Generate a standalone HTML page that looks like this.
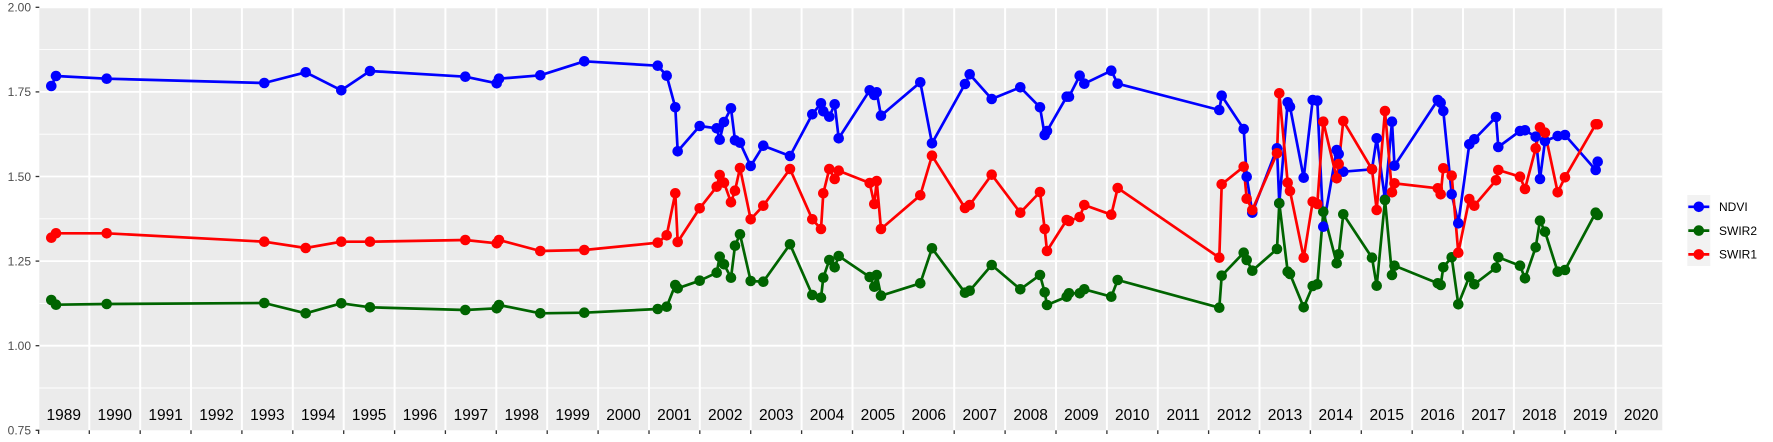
<!DOCTYPE html>
<html><head><meta charset="utf-8">
<style>
html,body{margin:0;padding:0;background:#fff;}
svg{display:block;}
text{font-family:"Liberation Sans",Arial,sans-serif;}
</style></head>
<body>
<svg width="1773" height="442" viewBox="0 0 1773 442" xmlns="http://www.w3.org/2000/svg">
<defs>
<marker id="mb" markerUnits="userSpaceOnUse" markerWidth="12" markerHeight="12" refX="6" refY="6" overflow="visible"><circle cx="6" cy="6" r="5.3" fill="#0000ff"/></marker>
<marker id="mg" markerUnits="userSpaceOnUse" markerWidth="12" markerHeight="12" refX="6" refY="6" overflow="visible"><circle cx="6" cy="6" r="5.3" fill="#006400"/></marker>
<marker id="mr" markerUnits="userSpaceOnUse" markerWidth="12" markerHeight="12" refX="6" refY="6" overflow="visible"><circle cx="6" cy="6" r="5.3" fill="#ff0000"/></marker>
</defs>
<rect x="0" y="0" width="1773" height="442" fill="#fff"/>
<!-- panel -->
<rect x="39.3" y="7.3" width="1623" height="423" fill="#ebebeb"/>
<!-- minor horizontal grid -->
<g stroke="#fff" stroke-width="0.9">
<line x1="39.3" x2="1662.3" y1="49.6" y2="49.6"/>
<line x1="39.3" x2="1662.3" y1="134.2" y2="134.2"/>
<line x1="39.3" x2="1662.3" y1="218.8" y2="218.8"/>
<line x1="39.3" x2="1662.3" y1="303.4" y2="303.4"/>
<line x1="39.3" x2="1662.3" y1="388" y2="388"/>
</g>
<!-- major horizontal grid -->
<g stroke="#fff" stroke-width="1.8">
<line x1="39.3" x2="1662.3" y1="7.3" y2="7.3"/>
<line x1="39.3" x2="1662.3" y1="91.9" y2="91.9"/>
<line x1="39.3" x2="1662.3" y1="176.5" y2="176.5"/>
<line x1="39.3" x2="1662.3" y1="261.1" y2="261.1"/>
<line x1="39.3" x2="1662.3" y1="345.7" y2="345.7"/>
</g>
<!-- vertical grid -->
<g stroke="#fff" stroke-width="2">
<line x1="89.3" x2="89.3" y1="7.3" y2="430.3"/>
<line x1="140.2" x2="140.2" y1="7.3" y2="430.3"/>
<line x1="191.0" x2="191.0" y1="7.3" y2="430.3"/>
<line x1="241.9" x2="241.9" y1="7.3" y2="430.3"/>
<line x1="292.8" x2="292.8" y1="7.3" y2="430.3"/>
<line x1="343.7" x2="343.7" y1="7.3" y2="430.3"/>
<line x1="394.6" x2="394.6" y1="7.3" y2="430.3"/>
<line x1="445.4" x2="445.4" y1="7.3" y2="430.3"/>
<line x1="496.3" x2="496.3" y1="7.3" y2="430.3"/>
<line x1="547.2" x2="547.2" y1="7.3" y2="430.3"/>
<line x1="598.1" x2="598.1" y1="7.3" y2="430.3"/>
<line x1="649.0" x2="649.0" y1="7.3" y2="430.3"/>
<line x1="699.8" x2="699.8" y1="7.3" y2="430.3"/>
<line x1="750.7" x2="750.7" y1="7.3" y2="430.3"/>
<line x1="801.6" x2="801.6" y1="7.3" y2="430.3"/>
<line x1="852.5" x2="852.5" y1="7.3" y2="430.3"/>
<line x1="903.4" x2="903.4" y1="7.3" y2="430.3"/>
<line x1="954.2" x2="954.2" y1="7.3" y2="430.3"/>
<line x1="1005.1" x2="1005.1" y1="7.3" y2="430.3"/>
<line x1="1056.0" x2="1056.0" y1="7.3" y2="430.3"/>
<line x1="1106.9" x2="1106.9" y1="7.3" y2="430.3"/>
<line x1="1157.8" x2="1157.8" y1="7.3" y2="430.3"/>
<line x1="1208.6" x2="1208.6" y1="7.3" y2="430.3"/>
<line x1="1259.5" x2="1259.5" y1="7.3" y2="430.3"/>
<line x1="1310.4" x2="1310.4" y1="7.3" y2="430.3"/>
<line x1="1361.3" x2="1361.3" y1="7.3" y2="430.3"/>
<line x1="1412.2" x2="1412.2" y1="7.3" y2="430.3"/>
<line x1="1463.0" x2="1463.0" y1="7.3" y2="430.3"/>
<line x1="1513.9" x2="1513.9" y1="7.3" y2="430.3"/>
<line x1="1564.8" x2="1564.8" y1="7.3" y2="430.3"/>
<line x1="1615.7" x2="1615.7" y1="7.3" y2="430.3"/>
</g>
<!-- lines -->
<g fill="none" stroke-width="2.7" stroke-linejoin="round" stroke-linecap="butt">
<polyline id="pb" stroke="#0000ff" points="51.3,86 56,76 106.7,78.7 264.3,83 305.7,72.3 341.3,90.3 370,71 465.3,76.7 496.7,83.3 499,78.7 540.3,75.3 584.3,61.3 657.7,65.7 666.7,75.7 675.3,107.3 677.7,151.3 699.7,126 716.7,128.3 719.7,139.7 724,122 731,108.3 735,140.3 740,142.7 750.7,166 763.3,145.7 790,156 812.3,114.3 821,103.3 823.3,111.3 829.3,116.7 834.7,104.3 838.7,138.3 869.7,90.3 874.3,95 876.7,92.3 881,115.7 920.3,82.3 932,143.3 965,84 969.7,74.3 991.7,99 1020.3,87.3 1040,107.3 1044.7,135 1047,131 1066.7,96.7 1069,96.7 1079.7,75.7 1084.3,83.7 1111.3,70.7 1117.7,83.7 1219.3,110 1221.7,95.7 1243.7,129 1246.7,176.7 1252.3,212.7 1277,148.3 1279.3,203.3 1287.7,102.3 1290,106.7 1303.7,177.7 1312.7,100 1317.3,100.7 1323.3,226.7 1336.7,150 1338.7,154 1343.3,171.7 1372,169.3 1376.7,138.3 1385,199.3 1392,121.7 1394.5,165.7 1437.8,100 1440.7,102.7 1443.3,111 1451.7,194.3 1458.3,223.3 1469.3,144.3 1474.3,139.3 1496,117 1498.3,147 1520,131 1525,130.3 1535.7,136.7 1540,179 1545,141 1557.7,136 1565,135 1595.7,170 1597.7,161.7"/>
<polyline stroke="#006400" points="51.3,300 56,304.7 106.7,304 264.3,303 305.7,313.3 341.3,303.3 370,307.3 465.3,310 496.7,308.3 499,305 540.3,313.3 584.3,312.7 657.7,309 666.7,306.7 675.3,285 677.7,288.3 699.7,280.7 716.7,272.7 719.7,256.7 724,264.3 731,277.7 735,245.7 740,234.3 750.7,281 763.3,281.7 790,244.3 812.3,295 821,297.7 823.3,277.7 829.3,260 834.7,267.3 838.7,256 869.7,277 874.3,286.7 876.7,275 881,295.7 920.3,283.3 932,248.3 965,292.7 969.7,290.7 991.7,265 1020.3,289.3 1040,275 1044.7,292.3 1047,305 1066.7,296.7 1069,293.3 1079.7,293.3 1084.3,289.3 1111.3,296.7 1117.7,280 1219.3,307.7 1221.7,275.7 1243.7,252.7 1246.7,260 1252.3,270.7 1277,249 1279.3,203.3 1287.7,271.7 1290,274 1303.7,307.3 1312.7,286 1317.3,284.3 1323.3,211.7 1336.7,263.3 1338.7,254.3 1343.3,214.3 1372,257.7 1376.7,285.7 1385,200 1392,275 1394.5,265.7 1437.8,283.3 1440.7,285 1443.3,267.3 1451.7,257.3 1458.3,304.3 1469.3,276.7 1474.3,284.3 1496,267.7 1498.3,257.3 1520,265.7 1525,278.3 1535.7,247.3 1540,220.7 1545,231.7 1557.7,271.7 1565,270 1595.7,212.7 1597.7,215"/>
<polyline stroke="#ff0000" points="51.3,237.7 56,233.3 106.7,233.3 264.3,241.7 305.7,248 341.3,241.7 370,241.7 465.3,240 496.7,243.3 499,240 540.3,251 584.3,250 657.7,242.7 666.7,235.3 675.3,193.3 677.7,242 699.7,208.3 716.7,186.7 719.7,175 724,182.7 731,202.3 735,190.7 740,168 750.7,219.3 763.3,205.7 790,169 812.3,219.3 821,229 823.3,193.3 829.3,169 834.7,179 838.7,170.7 869.7,183 874.3,204 876.7,181 881,229 920.3,195.3 932,155.7 965,208 969.7,205 991.7,174.7 1020.3,212.7 1040,192 1044.7,229 1047,251 1066.7,220 1069,221 1079.7,217 1084.3,205 1111.3,214.7 1117.7,188 1219.3,257.7 1221.7,184.3 1243.7,166.7 1246.7,198.7 1252.3,210 1277,153.3 1279.3,93.3 1287.7,182.7 1290,191 1303.7,257.7 1312.7,201.7 1317.3,204 1323.3,121.7 1336.7,178.3 1338.7,164 1343.3,121 1372,169.3 1376.7,210 1385,111 1392,192.3 1394.5,183.3 1437.8,188.3 1440.7,194.3 1443.3,168.3 1451.7,175.7 1458.3,252.7 1469.3,199 1474.3,205.7 1496,180.3 1498.3,170 1520,176.7 1525,189 1535.7,148.3 1540,127.3 1545,132.7 1557.7,192.3 1565,177.3 1595.7,124.3 1597.7,124.3"/>
</g>
<!-- points -->
<g fill="none" stroke="none">
<polyline marker-start="url(#mb)" marker-mid="url(#mb)" marker-end="url(#mb)" points="51.3,86 56,76 106.7,78.7 264.3,83 305.7,72.3 341.3,90.3 370,71 465.3,76.7 496.7,83.3 499,78.7 540.3,75.3 584.3,61.3 657.7,65.7 666.7,75.7 675.3,107.3 677.7,151.3 699.7,126 716.7,128.3 719.7,139.7 724,122 731,108.3 735,140.3 740,142.7 750.7,166 763.3,145.7 790,156 812.3,114.3 821,103.3 823.3,111.3 829.3,116.7 834.7,104.3 838.7,138.3 869.7,90.3 874.3,95 876.7,92.3 881,115.7 920.3,82.3 932,143.3 965,84 969.7,74.3 991.7,99 1020.3,87.3 1040,107.3 1044.7,135 1047,131 1066.7,96.7 1069,96.7 1079.7,75.7 1084.3,83.7 1111.3,70.7 1117.7,83.7 1219.3,110 1221.7,95.7 1243.7,129 1246.7,176.7 1252.3,212.7 1277,148.3 1279.3,203.3 1287.7,102.3 1290,106.7 1303.7,177.7 1312.7,100 1317.3,100.7 1323.3,226.7 1336.7,150 1338.7,154 1343.3,171.7 1372,169.3 1376.7,138.3 1385,199.3 1392,121.7 1394.5,165.7 1437.8,100 1440.7,102.7 1443.3,111 1451.7,194.3 1458.3,223.3 1469.3,144.3 1474.3,139.3 1496,117 1498.3,147 1520,131 1525,130.3 1535.7,136.7 1540,179 1545,141 1557.7,136 1565,135 1595.7,170 1597.7,161.7"/>
<polyline marker-start="url(#mg)" marker-mid="url(#mg)" marker-end="url(#mg)" points="51.3,300 56,304.7 106.7,304 264.3,303 305.7,313.3 341.3,303.3 370,307.3 465.3,310 496.7,308.3 499,305 540.3,313.3 584.3,312.7 657.7,309 666.7,306.7 675.3,285 677.7,288.3 699.7,280.7 716.7,272.7 719.7,256.7 724,264.3 731,277.7 735,245.7 740,234.3 750.7,281 763.3,281.7 790,244.3 812.3,295 821,297.7 823.3,277.7 829.3,260 834.7,267.3 838.7,256 869.7,277 874.3,286.7 876.7,275 881,295.7 920.3,283.3 932,248.3 965,292.7 969.7,290.7 991.7,265 1020.3,289.3 1040,275 1044.7,292.3 1047,305 1066.7,296.7 1069,293.3 1079.7,293.3 1084.3,289.3 1111.3,296.7 1117.7,280 1219.3,307.7 1221.7,275.7 1243.7,252.7 1246.7,260 1252.3,270.7 1277,249 1279.3,203.3 1287.7,271.7 1290,274 1303.7,307.3 1312.7,286 1317.3,284.3 1323.3,211.7 1336.7,263.3 1338.7,254.3 1343.3,214.3 1372,257.7 1376.7,285.7 1385,200 1392,275 1394.5,265.7 1437.8,283.3 1440.7,285 1443.3,267.3 1451.7,257.3 1458.3,304.3 1469.3,276.7 1474.3,284.3 1496,267.7 1498.3,257.3 1520,265.7 1525,278.3 1535.7,247.3 1540,220.7 1545,231.7 1557.7,271.7 1565,270 1595.7,212.7 1597.7,215"/>
<polyline marker-start="url(#mr)" marker-mid="url(#mr)" marker-end="url(#mr)" points="51.3,237.7 56,233.3 106.7,233.3 264.3,241.7 305.7,248 341.3,241.7 370,241.7 465.3,240 496.7,243.3 499,240 540.3,251 584.3,250 657.7,242.7 666.7,235.3 675.3,193.3 677.7,242 699.7,208.3 716.7,186.7 719.7,175 724,182.7 731,202.3 735,190.7 740,168 750.7,219.3 763.3,205.7 790,169 812.3,219.3 821,229 823.3,193.3 829.3,169 834.7,179 838.7,170.7 869.7,183 874.3,204 876.7,181 881,229 920.3,195.3 932,155.7 965,208 969.7,205 991.7,174.7 1020.3,212.7 1040,192 1044.7,229 1047,251 1066.7,220 1069,221 1079.7,217 1084.3,205 1111.3,214.7 1117.7,188 1219.3,257.7 1221.7,184.3 1243.7,166.7 1246.7,198.7 1252.3,210 1277,153.3 1279.3,93.3 1287.7,182.7 1290,191 1303.7,257.7 1312.7,201.7 1317.3,204 1323.3,121.7 1336.7,178.3 1338.7,164 1343.3,121 1372,169.3 1376.7,210 1385,111 1392,192.3 1394.5,183.3 1437.8,188.3 1440.7,194.3 1443.3,168.3 1451.7,175.7 1458.3,252.7 1469.3,199 1474.3,205.7 1496,180.3 1498.3,170 1520,176.7 1525,189 1535.7,148.3 1540,127.3 1545,132.7 1557.7,192.3 1565,177.3 1595.7,124.3 1597.7,124.3"/>
</g>
<!-- year labels -->
<g font-size="15.5" fill="#000" text-anchor="middle">
<text x="63.8" y="419.9">1989</text>
<text x="114.7" y="419.9">1990</text>
<text x="165.6" y="419.9">1991</text>
<text x="216.5" y="419.9">1992</text>
<text x="267.4" y="419.9">1993</text>
<text x="318.2" y="419.9">1994</text>
<text x="369.1" y="419.9">1995</text>
<text x="420.0" y="419.9">1996</text>
<text x="470.9" y="419.9">1997</text>
<text x="521.8" y="419.9">1998</text>
<text x="572.6" y="419.9">1999</text>
<text x="623.5" y="419.9">2000</text>
<text x="674.4" y="419.9">2001</text>
<text x="725.3" y="419.9">2002</text>
<text x="776.2" y="419.9">2003</text>
<text x="827.0" y="419.9">2004</text>
<text x="877.9" y="419.9">2005</text>
<text x="928.8" y="419.9">2006</text>
<text x="979.7" y="419.9">2007</text>
<text x="1030.6" y="419.9">2008</text>
<text x="1081.4" y="419.9">2009</text>
<text x="1132.3" y="419.9">2010</text>
<text x="1183.2" y="419.9">2011</text>
<text x="1234.1" y="419.9">2012</text>
<text x="1285.0" y="419.9">2013</text>
<text x="1335.8" y="419.9">2014</text>
<text x="1386.7" y="419.9">2015</text>
<text x="1437.6" y="419.9">2016</text>
<text x="1488.5" y="419.9">2017</text>
<text x="1539.4" y="419.9">2018</text>
<text x="1590.2" y="419.9">2019</text>
<text x="1641.1" y="419.9">2020</text>
</g>
<!-- y axis ticks and labels -->
<g stroke="#333" stroke-width="1.3">
<line x1="35.6" x2="39.3" y1="7.3" y2="7.3"/>
<line x1="35.6" x2="39.3" y1="91.9" y2="91.9"/>
<line x1="35.6" x2="39.3" y1="176.5" y2="176.5"/>
<line x1="35.6" x2="39.3" y1="261.1" y2="261.1"/>
<line x1="35.6" x2="39.3" y1="345.7" y2="345.7"/>
<line x1="35.6" x2="39.3" y1="430.3" y2="430.3"/>
</g>
<g font-size="12" fill="#4d4d4d" text-anchor="end">
<text x="31" y="11.6">2.00</text>
<text x="31" y="96.2">1.75</text>
<text x="31" y="180.8">1.50</text>
<text x="31" y="265.4">1.25</text>
<text x="31" y="350">1.00</text>
<text x="31" y="434.6">0.75</text>
</g>
<!-- x axis ticks -->
<g stroke="#333" stroke-width="1.3">
<line x1="38.6" x2="38.6" y1="430.3" y2="434"/>
<line x1="89.3" x2="89.3" y1="430.3" y2="434"/>
<line x1="140.2" x2="140.2" y1="430.3" y2="434"/>
<line x1="191.0" x2="191.0" y1="430.3" y2="434"/>
<line x1="241.9" x2="241.9" y1="430.3" y2="434"/>
<line x1="292.8" x2="292.8" y1="430.3" y2="434"/>
<line x1="343.7" x2="343.7" y1="430.3" y2="434"/>
<line x1="394.6" x2="394.6" y1="430.3" y2="434"/>
<line x1="445.4" x2="445.4" y1="430.3" y2="434"/>
<line x1="496.3" x2="496.3" y1="430.3" y2="434"/>
<line x1="547.2" x2="547.2" y1="430.3" y2="434"/>
<line x1="598.1" x2="598.1" y1="430.3" y2="434"/>
<line x1="649.0" x2="649.0" y1="430.3" y2="434"/>
<line x1="699.8" x2="699.8" y1="430.3" y2="434"/>
<line x1="750.7" x2="750.7" y1="430.3" y2="434"/>
<line x1="801.6" x2="801.6" y1="430.3" y2="434"/>
<line x1="852.5" x2="852.5" y1="430.3" y2="434"/>
<line x1="903.4" x2="903.4" y1="430.3" y2="434"/>
<line x1="954.2" x2="954.2" y1="430.3" y2="434"/>
<line x1="1005.1" x2="1005.1" y1="430.3" y2="434"/>
<line x1="1056.0" x2="1056.0" y1="430.3" y2="434"/>
<line x1="1106.9" x2="1106.9" y1="430.3" y2="434"/>
<line x1="1157.8" x2="1157.8" y1="430.3" y2="434"/>
<line x1="1208.6" x2="1208.6" y1="430.3" y2="434"/>
<line x1="1259.5" x2="1259.5" y1="430.3" y2="434"/>
<line x1="1310.4" x2="1310.4" y1="430.3" y2="434"/>
<line x1="1361.3" x2="1361.3" y1="430.3" y2="434"/>
<line x1="1412.2" x2="1412.2" y1="430.3" y2="434"/>
<line x1="1463.0" x2="1463.0" y1="430.3" y2="434"/>
<line x1="1513.9" x2="1513.9" y1="430.3" y2="434"/>
<line x1="1564.8" x2="1564.8" y1="430.3" y2="434"/>
<line x1="1615.7" x2="1615.7" y1="430.3" y2="434"/>
</g>
<!-- legend -->
<rect x="1687.3" y="195" width="23" height="71" fill="#f2f2f2"/>
<g stroke-width="2.7">
<line x1="1688.3" x2="1709.3" y1="206.8" y2="206.8" stroke="#0000ff"/>
<line x1="1688.3" x2="1709.3" y1="230.6" y2="230.6" stroke="#006400"/>
<line x1="1688.3" x2="1709.3" y1="254.4" y2="254.4" stroke="#ff0000"/>
</g>
<circle cx="1698.8" cy="206.8" r="5.3" fill="#0000ff"/>
<circle cx="1698.8" cy="230.6" r="5.3" fill="#006400"/>
<circle cx="1698.8" cy="254.4" r="5.3" fill="#ff0000"/>
<g font-size="12" fill="#000">
<text x="1719" y="211.1">NDVI</text>
<text x="1719" y="234.9">SWIR2</text>
<text x="1719" y="258.7">SWIR1</text>
</g>
</svg>
</body></html>
